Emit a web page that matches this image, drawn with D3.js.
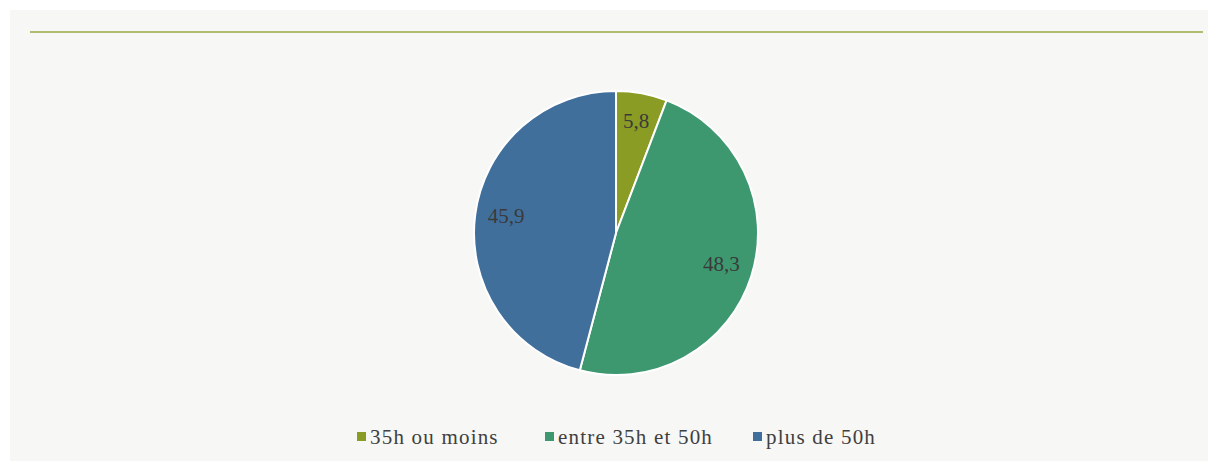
<!DOCTYPE html>
<html>
<head>
<meta charset="utf-8">
<script src="https://cdn.jsdelivr.net/npm/d3@7"></script>
<style>
	body { margin: 0; background: #fff; }
	svg { display: block; }
	text { font-family: 'Liberation Serif', 'DejaVu Serif', 'Times New Roman', serif; }
</style>
</head>
<body>
<div class="graphic"></div>
<script>
// durée hebdomadaire de travail (%)
var categories = ['35h ou moins', 'entre 35h et 50h', 'plus de 50h'];
var values = [5.8, 48.3, 45.9];
var labels = ['5,8', '48,3', '45,9'];
var colors = ['#8a9c24', '#3d9870', '#416f9c'];

function makePie() {

	var width = 1208;
	var height = 461;
	var cx = 616, cy = 233, r = 142;

	var svg = d3.select('.graphic').append('svg')
		.attr('width', width)
		.attr('height', height);

	// panel background + top rule
	svg.append('rect')
		.attr('x', 10).attr('y', 10)
		.attr('width', width - 10).attr('height', height - 10)
		.attr('fill', '#f7f7f5');

	svg.append('line')
		.attr('x1', 30).attr('x2', 1203)
		.attr('y1', 32).attr('y2', 32)
		.attr('stroke', '#9aaa40')
		.attr('stroke-width', 1.5);

	var data = values.map(function(v, i) {
		return { cat: categories[i], value: v, label: labels[i], color: colors[i] };
	});

	var pie = d3.pie().sort(null).value(function(d) { return d.value; });
	var arc = d3.arc().innerRadius(0).outerRadius(r);
	var labelArc = d3.arc().innerRadius(r * 0.78).outerRadius(r * 0.78);

	var g = svg.append('g').attr('transform', 'translate(' + cx + ',' + cy + ')');

	var slices = g.selectAll('g.slice')
		.data(pie(data))
		.enter()
		.append('g')
		.attr('class', 'slice');

	slices.append('path')
		.attr('d', arc)
		.attr('fill', function(d) { return d.data.color; })
		.attr('stroke', '#fff')
		.attr('stroke-width', 2);

	slices.append('text')
		.attr('transform', function(d) { return 'translate(' + labelArc.centroid(d) + ')'; })
		.attr('text-anchor', 'middle')
		.attr('dy', '0.2em')
		.attr('font-size', 21)
		.attr('fill', '#3a3a3a')
		.text(function(d) { return d.data.label; });

	// legend
	var legendX = [357, 545, 753];
	var legend = svg.selectAll('g.legend')
		.data(data)
		.enter()
		.append('g')
		.attr('class', 'legend')
		.attr('transform', function(d, i) { return 'translate(' + legendX[i] + ',437)'; });

	legend.append('rect')
		.attr('x', 0).attr('y', -5)
		.attr('width', 9).attr('height', 9)
		.attr('fill', function(d) { return d.color; });

	legend.append('text')
		.attr('x', 13)
		.attr('dy', '0.33em')
		.attr('font-size', 21)
		.attr('letter-spacing', 1.2)
		.attr('fill', '#404040')
		.text(function(d) { return d.cat; });
}

makePie();
</script>
</body>
</html>
